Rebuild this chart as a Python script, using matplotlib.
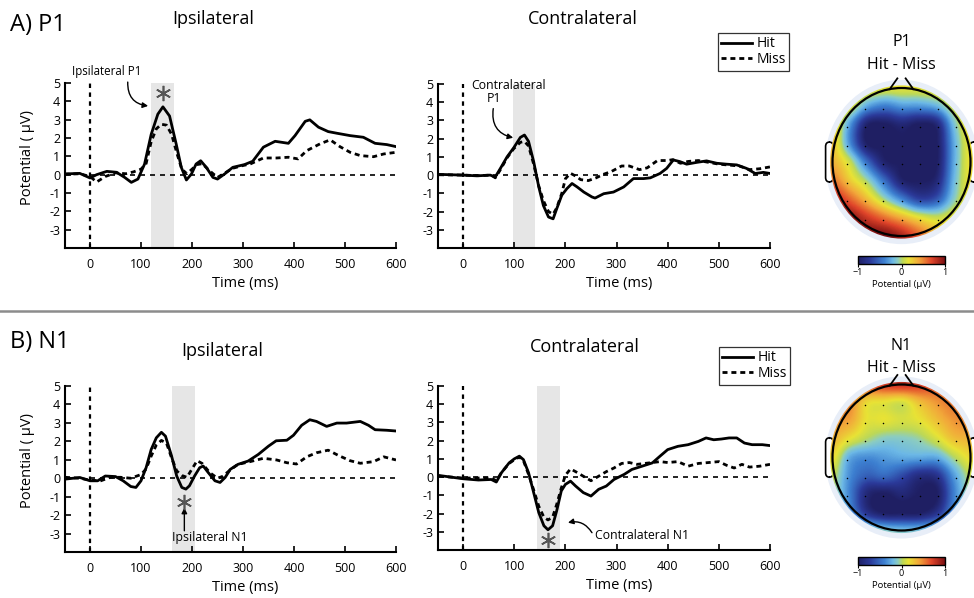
import numpy as np
import matplotlib
matplotlib.use("Agg")
import matplotlib.pyplot as plt
from matplotlib.colors import LinearSegmentedColormap
from matplotlib.patches import Circle, FancyBboxPatch

plt.rcParams['font.family'] = ['Open Sans', 'DejaVu Sans']
plt.rcParams['axes.unicode_minus'] = False

# ---------------- data ----------------
# A) P1 ipsilateral
t_p1_ipsi_hit = [-50, -20, 0, 13, 33, 52, 68, 81, 94, 107, 120, 133, 143, 156, 169, 179, 189, 199, 208, 217,
                 228, 241, 250, 264, 280, 303, 319, 340, 363, 389, 402, 422, 431, 448, 467, 484, 510, 536, 559, 582, 600]
p1_ipsi_hit = [0.04, 0.07, -0.18, 0, 0.18, 0.13, -0.15, -0.42, -0.24, 0.58, 2.2, 3.3, 3.7, 3.2, 1.67, 0.4, -0.29, 0.04, 0.58, 0.76,
               0.4, -0.15, -0.24, 0.04, 0.4, 0.55, 0.73, 1.5, 1.82, 1.71, 2.13, 2.91, 2.99, 2.59, 2.35, 2.26, 2.13, 2.04, 1.71, 1.64, 1.53]
t_p1_ipsi_miss = [-50, -20, 0, 13, 30, 50, 70, 85, 100, 110, 120, 130, 140, 150, 160, 170, 180, 190, 200, 210,
                  220, 235, 250, 265, 280, 300, 314, 340, 366, 389, 408, 425, 451, 471, 490, 510, 530, 556, 576, 600]
p1_ipsi_miss = [0.02, 0.05, -0.1, -0.4, -0.1, 0.1, 0.05, 0.15, 0.3, 0.6, 1.8, 2.5, 2.75, 2.7, 2.2, 1.2, 0.3, 0.05, 0.3, 0.55,
                0.6, 0.2, -0.15, 0.1, 0.35, 0.5, 0.58, 0.91, 0.91, 0.95, 0.86, 1.31, 1.68, 1.9, 1.53, 1.22, 1.04, 0.98, 1.13, 1.22]

# A) P1 contralateral
t_p1_contra_hit = [-47, 0, 27, 53, 63, 73, 86, 99, 112, 120, 128, 138, 148, 157, 167, 176, 183, 193, 203, 213,
                   223, 236, 252, 258, 275, 294, 314, 333, 353, 366, 385, 398, 411, 424, 437, 457, 476, 496, 515, 535,
                   554, 571, 587, 600]
p1_contra_hit = [0.04, 0, -0.04, 0, -0.1, 0.37, 1.0, 1.5, 2.07, 2.2, 1.85, 0.74, -0.65, -1.67, -2.3, -2.4, -1.85, -1.1, -0.74, -0.46,
                 -0.65, -0.93, -1.2, -1.26, -1.02, -0.93, -0.65, -0.19, -0.19, -0.15, 0.09, 0.37, 0.83, 0.74, 0.6, 0.7, 0.78, 0.65, 0.6, 0.56,
                 0.37, 0.09, 0.15, 0.09]
t_p1_contra_miss = [-47, 0, 30, 55, 63, 73, 86, 99, 112, 120, 128, 138, 148, 157, 167, 176, 183, 193, 200, 210,
                    220, 230, 245, 260, 275, 290, 310, 325, 345, 360, 380, 400, 410, 425, 440, 460, 480, 500, 520, 540,
                    560, 580, 600]
p1_contra_miss = [0.02, 0, -0.03, 0, -0.15, 0.3, 0.95, 1.45, 1.8, 1.85, 1.6, 0.6, -0.6, -1.4, -2.0, -2.15, -1.8, -1.0, -0.2, 0.1,
                  -0.05, -0.25, -0.3, -0.15, 0.05, 0.2, 0.5, 0.5, 0.3, 0.4, 0.8, 0.8, 0.85, 0.65, 0.75, 0.8, 0.7, 0.6, 0.55, 0.5,
                  0.3, 0.35, 0.45]

# B) N1 ipsilateral
t_n1_ipsi_hit = [-49, -20, 0, 15, 30, 50, 65, 80, 90, 100, 110, 120, 130, 140, 148, 160, 170, 180, 188, 195,
                 205, 215, 222, 232, 245, 255, 265, 275, 290, 310, 330, 350, 365, 386, 399, 415, 431, 444, 464, 484,
                 503, 530, 546, 559, 582, 600]
n1_ipsi_hit = [-0.05, 0.04, -0.14, -0.14, 0.12, 0.09, -0.14, -0.45, -0.5, -0.14, 0.57, 1.56, 2.19, 2.49, 2.28, 1.2, 0.12, -0.5, -0.59, -0.41,
               0.12, 0.57, 0.66, 0.3, -0.14, -0.23, 0.04, 0.48, 0.75, 0.93, 1.29, 1.74, 2.03, 2.06, 2.33, 2.87, 3.17, 3.08, 2.81, 2.99,
               2.99, 3.08, 2.87, 2.63, 2.6, 2.56]
t_n1_ipsi_miss = [-49, -20, 0, 20, 40, 60, 80, 100, 110, 120, 130, 140, 150, 160, 170, 180, 190, 200, 210, 220,
                  235, 250, 260, 275, 290, 314, 340, 366, 386, 405, 425, 444, 467, 486, 510, 530, 556, 576, 600]
n1_ipsi_miss = [0.05, 0, -0.1, -0.15, 0.05, 0.05, 0, 0.2, 0.5, 1.2, 1.8, 2.05, 1.9, 1.1, 0.4, 0.15, 0.05, 0.5, 0.95, 0.8,
                0.3, 0, 0.1, 0.45, 0.75, 0.9, 1.08, 0.99, 0.84, 0.77, 1.16, 1.38, 1.52, 1.25, 0.95, 0.81, 0.9, 1.16, 0.99]

# B) N1 contralateral
t_n1_contra_hit = [-47, 0, 30, 55, 65, 75, 90, 100, 110, 118, 128, 138, 148, 158, 166, 175, 183, 192, 200, 210,
                   220, 235, 250, 265, 280, 295, 315, 330, 350, 370, 385, 400, 420, 440, 460, 475, 490, 505, 520, 535,
                   550, 565, 585, 600]
n1_contra_hit = [0.09, -0.09, -0.16, -0.13, -0.27, 0.24, 0.78, 1.0, 1.15, 0.96, 0.24, -0.85, -1.95, -2.67, -2.89, -2.67, -1.85, -0.76, -0.4, -0.22,
                 -0.49, -0.85, -1.04, -0.67, -0.49, -0.13, 0.15, 0.42, 0.6, 0.78, 1.15, 1.51, 1.69, 1.78, 1.96, 2.15, 2.05, 2.09, 2.15, 2.15,
                 1.87, 1.78, 1.78, 1.73]
t_n1_contra_miss = [-47, 0, 30, 55, 65, 75, 90, 100, 110, 118, 128, 138, 148, 158, 166, 175, 183, 192, 200, 210,
                    220, 235, 250, 265, 280, 295, 310, 325, 340, 355, 370, 385, 400, 420, 440, 460, 480, 500, 515, 530,
                    545, 560, 580, 600]
n1_contra_miss = [0.05, -0.05, -0.05, -0.05, -0.2, 0.25, 0.75, 0.95, 1.1, 0.9, 0.15, -0.7, -1.6, -2.2, -2.35, -2.2, -1.5, -0.6, 0.1, 0.45,
                  0.3, 0.05, -0.2, 0.05, 0.3, 0.5, 0.75, 0.8, 0.7, 0.75, 0.8, 0.85, 0.8, 0.85, 0.6, 0.75, 0.8, 0.85, 0.65, 0.5,
                  0.7, 0.55, 0.6, 0.7]

# significant windows (ms)
win_p1_ipsi = (120, 165)
win_p1_contra = (97, 140)
win_n1_ipsi = (160, 205)
win_n1_contra = (145, 190)

x_ticks = [0, 100, 200, 300, 400, 500, 600]
y_ticks = [-3, -2, -1, 0, 1, 2, 3, 4, 5]

# topographic maps (Hit - Miss), 9x9 grid, rows top(front) -> bottom(back), cols left -> right
topo_p1 = [
    [0.25, 0.25, 0.20, 0.15, 0.15, 0.15, 0.20, 0.25, 0.25],
    [0.25, 0.15, -0.25, -0.40, -0.30, -0.30, -0.20, 0.10, 0.25],
    [0.30, -0.30, -0.95, -1.00, -0.90, -1.00, -0.90, -0.15, 0.25],
    [0.30, -0.35, -1.00, -1.00, -1.00, -1.00, -1.00, -0.25, 0.20],
    [0.35, 0.05, -0.50, -0.95, -1.00, -1.00, -1.00, -0.25, 0.20],
    [0.55, 0.25, -0.05, -0.50, -0.95, -1.00, -0.90, -0.20, 0.20],
    [0.85, 0.60, 0.30, -0.05, -0.40, -0.70, -0.60, -0.10, 0.20],
    [1.00, 0.95, 0.75, 0.55, 0.35, 0.15, 0.05, 0.15, 0.20],
    [1.00, 1.00, 1.00, 1.00, 0.85, 0.60, 0.35, 0.25, 0.20],
]
topo_n1 = [
    [0.55, 0.60, 0.65, 0.75, 0.80, 0.75, 0.65, 0.60, 0.55],
    [0.50, 0.50, 0.20, 0.15, 0.10, 0.30, 0.45, 0.55, 0.50],
    [0.45, 0.40, 0.15, 0.15, 0.10, 0.15, 0.30, 0.45, 0.50],
    [0.35, 0.15, 0.00, -0.10, -0.10, -0.05, 0.10, 0.30, 0.35],
    [0.20, -0.25, -0.35, -0.30, -0.25, -0.25, -0.25, 0.00, 0.20],
    [0.05, -0.35, -0.55, -0.50, -0.65, -0.85, -0.80, -0.30, 0.05],
    [0.00, -0.40, -0.90, -1.00, -0.90, -1.00, -1.00, -0.40, 0.00],
    [0.05, -0.30, -0.80, -1.00, -1.00, -1.00, -0.80, -0.30, 0.05],
    [0.20, 0.15, 0.00, -0.10, -0.15, -0.15, -0.10, 0.00, 0.20],
]

# ---------------- figure ----------------
W, H = 974, 598
fig = plt.figure(figsize=(W / 100, H / 100), dpi=100)


def px_axes(l, t, r, b):
    return fig.add_axes([l / W, 1 - b / H, (r - l) / W, (b - t) / H])


def erp_panel(ax, th, yh, tm, ym, win, ylabel=False):
    ax.axvspan(win[0], win[1], color='#e6e6e6', lw=0, zorder=0)
    ax.plot([0, 600], [0, 0], color='k', lw=1.2, dashes=(3, 3), zorder=1)
    ax.plot([0, 0], [-4, 5], color='k', lw=1.6, dashes=(2, 2), zorder=1)
    ax.plot(tm, ym, color='k', lw=2.0, dashes=(1.8, 1.4), zorder=2, label='Miss')
    ax.plot(th, yh, color='k', lw=2.0, zorder=3, label='Hit')
    ax.set_xlim(-50, 600)
    ax.set_ylim(-4, 5)
    ax.set_xticks(x_ticks)
    ax.set_yticks(y_ticks)
    for s in ['top', 'right']:
        ax.spines[s].set_visible(False)
    for s in ['left', 'bottom']:
        ax.spines[s].set_linewidth(1.5)
    ax.tick_params(direction='in', length=4, width=1.2, labelsize=9, pad=3)
    ax.tick_params(axis='x', pad=7)
    ax.set_xlabel('Time (ms)', fontsize=10.5, labelpad=3)
    ax.xaxis.set_label_coords(0.545, -0.17)
    if ylabel:
        ax.set_ylabel('Potential ( \u03bcV)', fontsize=10.5)
        ax.yaxis.set_label_coords(-0.09, 0.55)


def star(ax, x, y):
    ax.plot([x], [y], marker=(6, 2, 0), ms=11, mew=1.2, color='#555555', zorder=5, clip_on=False)


ax1 = px_axes(64.5, 83, 396, 248)
erp_panel(ax1, t_p1_ipsi_hit, p1_ipsi_hit, t_p1_ipsi_miss, p1_ipsi_miss, win_p1_ipsi, ylabel=True)
ax2 = px_axes(437.5, 84, 770, 248)
erp_panel(ax2, t_p1_contra_hit, p1_contra_hit, t_p1_contra_miss, p1_contra_miss, win_p1_contra)
ax3 = px_axes(64.5, 386, 396, 552)
erp_panel(ax3, t_n1_ipsi_hit, n1_ipsi_hit, t_n1_ipsi_miss, n1_ipsi_miss, win_n1_ipsi, ylabel=True)
ax4 = px_axes(437.5, 386, 770, 550)
erp_panel(ax4, t_n1_contra_hit, n1_contra_hit, t_n1_contra_miss, n1_contra_miss, win_n1_contra)

arrow_kw = dict(arrowstyle='-|>', color='k', lw=1.0, mutation_scale=8, shrinkA=0, shrinkB=0)

# annotations
ax1.text(33, 5.65, 'Ipsilateral P1', ha='center', va='center', fontsize=8.3, clip_on=False)
ax1.annotate('', xy=(114, 3.75), xytext=(74, 5.05),
             arrowprops=dict(connectionstyle='arc3,rad=0.45', **arrow_kw), annotation_clip=False)
star(ax1, 143, 4.45)

ax2.text(88, 4.9, 'Contralateral', ha='center', va='center', fontsize=8.8, clip_on=False)
ax2.text(61, 4.2, 'P1', ha='center', va='center', fontsize=8.8, clip_on=False)
ax2.annotate('', xy=(98, 2.05), xytext=(59, 3.65),
             arrowprops=dict(connectionstyle='arc3,rad=0.45', **arrow_kw), annotation_clip=False)

ax3.text(234, -3.23, 'Ipsilateral N1', ha='center', va='center', fontsize=8.8, clip_on=False)
ax3.annotate('', xy=(185, -1.6), xytext=(185, -2.85),
             arrowprops=dict(connectionstyle='arc3,rad=0', **arrow_kw), annotation_clip=False)
star(ax3, 185, -1.3)

ax4.text(258, -3.2, 'Contralateral N1', ha='left', va='center', fontsize=8.8, clip_on=False)
ax4.annotate('', xy=(205, -2.5), xytext=(252, -3.05),
             arrowprops=dict(connectionstyle='arc3,rad=0.35', **arrow_kw), annotation_clip=False)
star(ax4, 166, -3.45)

# legends
for ax, (lx, ty) in [(ax2, (789, 33)), (ax4, (790, 347))]:
    h, l = ax.get_legend_handles_labels()
    leg = ax.legend(h[::-1], l[::-1], loc='upper right', bbox_to_anchor=(lx / W, 1 - ty / H),
                    bbox_transform=fig.transFigure, fontsize=10, frameon=True, fancybox=False,
                    edgecolor='k', handlelength=2.2, handletextpad=0.3, borderpad=0.25,
                    labelspacing=0.05, borderaxespad=0)
    leg.get_frame().set_linewidth(0.9)

# titles / headers
fig.text(10 / W, 1 - 25 / H, 'A) P1', fontsize=17, ha='left', va='center')
fig.text(10 / W, 1 - 342 / H, 'B) N1', fontsize=17, ha='left', va='center')
fig.text(213 / W, 1 - 19 / H, 'Ipsilateral', fontsize=13, ha='center', va='center')
fig.text(583 / W, 1 - 19 / H, 'Contralateral', fontsize=13, ha='center', va='center')
fig.text(222 / W, 1 - 351 / H, 'Ipsilateral', fontsize=13, ha='center', va='center')
fig.text(585 / W, 1 - 347 / H, 'Contralateral', fontsize=13, ha='center', va='center')

# separator
fig.add_artist(plt.Line2D([0, 1], [1 - 311 / H, 1 - 311 / H], transform=fig.transFigure,
                          color='#8c8c8c', lw=1.8))

# colormap
cmap = LinearSegmentedColormap.from_list('topo', [
    (0.00, '#1f1f63'), (0.14, '#2b3a9a'), (0.30, '#3d7fd0'), (0.40, '#6cb8e6'),
    (0.46, '#8ccdc0'), (0.51, '#bcd858'), (0.58, '#e8e335'), (0.70, '#f2a83a'),
    (0.85, '#e0452a'), (1.00, '#7a0f12')])

# electrode layout
eu, ev = np.meshgrid(0.265 * np.arange(-3, 4), -0.03 + 0.25 * np.arange(-3, 4))
keep = np.hypot(eu, ev) < 0.97
eu, ev = eu[keep], ev[keep]


def topo(cx, cy, rx, ry, grid, title, t_off, s_off):
    ax = px_axes(cx - 1.15 * rx, cy - 1.15 * ry, cx + 1.15 * rx, cy + 1.15 * ry)
    ax.set_xlim(-1.15, 1.15)
    ax.set_ylim(-1.15, 1.15)
    ax.set_aspect('auto')
    ax.axis('off')
    ax.add_patch(Circle((0, 0), 1.11, color='#e8eef8', lw=0, zorder=0))
    im = ax.imshow(np.array(grid), extent=[-1.125, 1.125, -1.125, 1.125], origin='upper',
                   cmap=cmap, vmin=-1, vmax=1, interpolation='catrom',
                   interpolation_stage='data', zorder=2, aspect='auto')
    clip = Circle((0, 0), 1.035, transform=ax.transData)
    im.set_clip_path(clip)
    for sx in (-1, 1):
        ax.add_patch(FancyBboxPatch((sx * 1.045 - 0.055, -0.27), 0.11, 0.54,
                                    boxstyle='round,pad=0,rounding_size=0.06',
                                    fc='white', ec='k', lw=1.2, zorder=1, clip_on=False))
        ax.plot([sx * 0.17, sx * 0.06], [0.985, 1.13], color='k', lw=1.3, zorder=4, clip_on=False)
    ax.add_patch(Circle((0, 0), 1.0, fill=False, ec='k', lw=1.6, zorder=4))
    ax.scatter(eu, ev, s=1.2, c='k', lw=0, zorder=5)
    fig.text(cx / W, 1 - (cy - t_off) / H, title, fontsize=11.5, ha='center', va='center')
    fig.text(cx / W, 1 - (cy - s_off) / H, 'Hit - Miss', fontsize=11.5, ha='center', va='center')
    return im


im1 = topo(901.5, 162, 69, 74, topo_p1, 'P1', 120, 97)
im2 = topo(901.5, 457.5, 69, 73, topo_n1, 'N1', 112, 90)

for im, cb_top in [(im1, 256), (im2, 557)]:
    cax = px_axes(858, cb_top, 945, cb_top + 8)
    cb = fig.colorbar(im, cax=cax, orientation='horizontal', ticks=[-1, 0, 1])
    cb.set_ticklabels(['\u22121', '0', '1'])
    cb.outline.set_linewidth(1.0)
    cax.tick_params(labelsize=6.5, length=2, pad=1)
    cb.set_label('Potential (\u03bcV)', fontsize=6.8, labelpad=2)

fig.savefig('out.png', dpi=100)
